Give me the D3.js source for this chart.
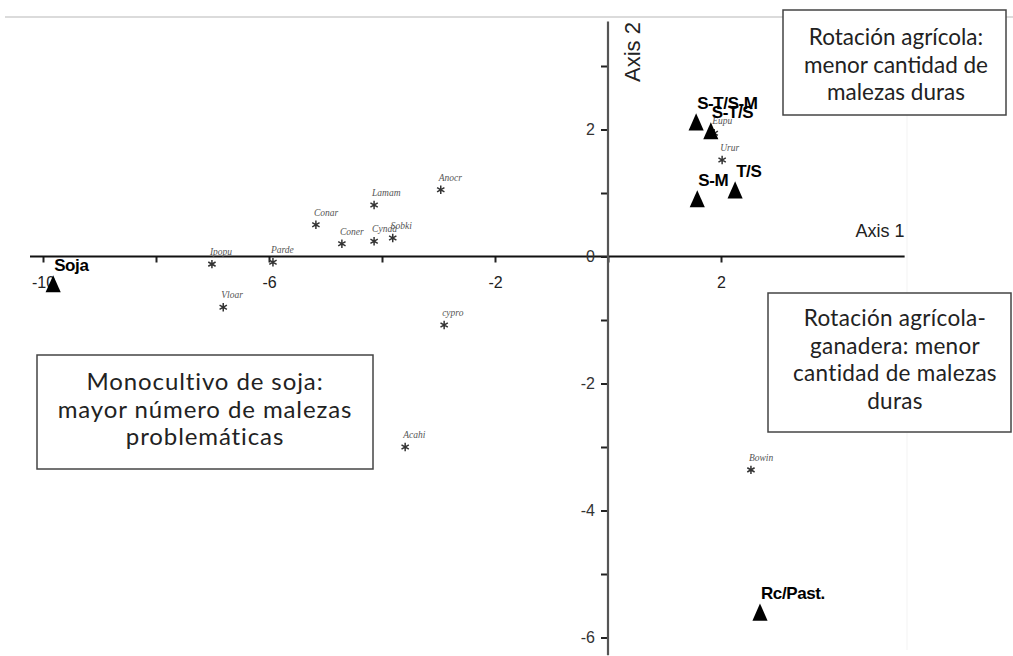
<!DOCTYPE html>
<html>
<head>
<meta charset="utf-8">
<script src="https://cdn.jsdelivr.net/npm/d3@7"></script>
<style>
  body { margin: 0; background: #fff; }
  svg { display: block; }
</style>
</head>
<body>
<div id="chart"></div>
<script>
const [width, height] = [1013, 656];

// species scores (asterisks)
const species = ["Ipopu", "Parde", "Conar", "Coner", "Lamam", "Cynda", "Sobki", "Anocr", "Vloar", "cypro", "Acahi", "Bowin", "Urur", "Eupu"];
const spAxis1 = [-7.01, -5.93, -5.17, -4.71, -4.14, -4.14, -3.81, -2.96, -6.81, -2.90, -3.59, 2.53, 2.02, 1.88];
const spAxis2 = [-0.12, -0.09, 0.50, 0.20, 0.81, 0.24, 0.29, 1.05, -0.80, -1.08, -3.00, -3.36, 1.52, 1.94];

// treatment scores (triangles)
const treatments = ["Soja", "S-T/S-M", "S-T/S", "S-M", "T/S", "Rc/Past."];
const trAxis1 = [-9.82, 1.56, 1.82, 1.58, 2.25, 2.69];
const trAxis2 = [-0.43, 2.12, 1.98, 0.91, 1.05, -5.60];

// axis ticks
const xTicks = [-10, -8, -6, -4, -2, 0, 2];
const xTickLabels = [-10, -6, -2, 2];
const yTicks = [-6, -5, -4, -3, -2, -1, 0, 1, 2, 3];
const yTickLabels = [-6, -4, -2, 0, 2];

// note boxes
const notes = [
  {lines: ["Rotación agrícola:", "menor cantidad de", "malezas duras"], box: [783, 10, 223, 105], cx: 896, y0: 45, size: 22.5, ls: 0},
  {lines: ["Rotación agrícola-", "ganadera: menor", "cantidad de malezas", "duras"], box: [768, 293, 243, 139], cx: 895, y0: 326, size: 22.5, ls: 0.3},
  {lines: ["Monocultivo de soja:", "mayor número de malezas", "problemáticas"], box: [37, 355, 336, 114], cx: 205, y0: 390, size: 24, ls: 0.9}
];

const svg = d3.select("#chart")
  .append("svg")
  .attr("width", width)
  .attr("height", height);

// scales
const x = d3.scaleLinear().domain([-10, 2]).range([43, 721]);
const y = d3.scaleLinear().domain([-6, 3]).range([637.5, 66]);

// faint frame lines
svg.append("line")
  .attr("x1", 5).attr("x2", width).attr("y1", 17).attr("y2", 17)
  .attr("stroke", "#cfcfcf").attr("stroke-width", 1.5);
svg.append("line")
  .attr("x1", 907).attr("x2", 907).attr("y1", 17).attr("y2", 650)
  .attr("stroke", "#f3f3f3").attr("stroke-width", 1);

// x axis
const xAxis = d3.axisBottom(x)
  .tickValues(xTicks)
  .tickSize(6)
  .tickPadding(14)
  .tickFormat(d => xTickLabels.includes(d) ? d : "");

const gx = svg.append("g")
  .attr("transform", `translate(0, ${y(0)})`)
  .call(xAxis);
gx.select(".domain").remove();
gx.selectAll(".tick line").attr("stroke", "#222").attr("stroke-width", 2);
gx.selectAll(".tick text")
  .attr("font-family", "Liberation Sans, Arial, sans-serif")
  .attr("font-size", 16)
  .attr("fill", "#222");
gx.append("line")
  .attr("x1", x(-10.23)).attr("x2", x(5.25))
  .attr("stroke", "#111").attr("stroke-width", 2);

// y axis
const yAxis = d3.axisLeft(y)
  .tickValues(yTicks)
  .tickSize(7)
  .tickPadding(6)
  .tickFormat(d => yTickLabels.includes(d) ? d : "");

const gy = svg.append("g")
  .attr("transform", `translate(${x(0)}, 0)`)
  .call(yAxis);
gy.select(".domain").remove();
gy.selectAll(".tick line").attr("stroke", "#222").attr("stroke-width", 2);
gy.selectAll(".tick text")
  .attr("font-family", "Liberation Sans, Arial, sans-serif")
  .attr("font-size", 16)
  .attr("fill", "#333");
gy.append("line")
  .attr("y1", y(3.7)).attr("y2", y(-6.28))
  .attr("stroke", "#555").attr("stroke-width", 2.2);

// axis titles
svg.append("text")
  .attr("x", x(5.25)).attr("y", 237)
  .attr("text-anchor", "end")
  .attr("font-family", "Liberation Sans, Arial, sans-serif")
  .attr("font-size", 18)
  .attr("fill", "#222")
  .text("Axis 1");
svg.append("text")
  .attr("transform", `translate(640, 52) rotate(-90)`)
  .attr("text-anchor", "middle")
  .attr("font-family", "Liberation Sans, Arial, sans-serif")
  .attr("font-size", 22)
  .attr("fill", "#222")
  .text("Axis 2");

// species asterisks
const star = d3.symbol().type(d3.symbolAsterisk).size(50);
const sp = svg.append("g").selectAll("g")
  .data(species)
  .enter()
  .append("g")
  .attr("transform", (d, i) => `translate(${x(spAxis1[i])}, ${y(spAxis2[i])})`);
sp.append("path")
  .attr("d", star)
  .attr("fill", "none")
  .attr("stroke", "#333")
  .attr("stroke-width", 1.5);
sp.append("text")
  .attr("x", -2).attr("y", -9)
  .attr("font-family", "Liberation Serif, Times New Roman, serif")
  .attr("font-style", "italic")
  .attr("font-size", 9.5)
  .attr("fill", "#555")
  .text(d => d);

// treatment triangles (a little taller than equilateral)
const tallTriangle = {
  draw(context, size) {
    const w = Math.sqrt(size) * 1.43, h = w * 1.13;
    context.moveTo(0, -h / 2);
    context.lineTo(w / 2, h / 2);
    context.lineTo(-w / 2, h / 2);
    context.closePath();
  }
};
const tri = d3.symbol().type(tallTriangle).size(112);
const tr = svg.append("g").selectAll("g")
  .data(treatments)
  .enter()
  .append("g")
  .attr("transform", (d, i) => `translate(${x(trAxis1[i])}, ${y(trAxis2[i])})`);
tr.append("path")
  .attr("d", tri)
  .attr("fill", "#000");
tr.append("text")
  .attr("x", 1).attr("y", -13)
  .attr("font-family", "Liberation Sans, Arial, sans-serif")
  .attr("font-weight", "bold")
  .attr("font-size", 17)
  .attr("letter-spacing", -0.4)
  .attr("fill", "#000")
  .text(d => d);

// note boxes
const nb = svg.append("g").selectAll("g")
  .data(notes)
  .enter()
  .append("g");
nb.append("rect")
  .attr("x", d => d.box[0]).attr("y", d => d.box[1])
  .attr("width", d => d.box[2]).attr("height", d => d.box[3])
  .attr("fill", "#fff")
  .attr("stroke", "#444")
  .attr("stroke-width", 1.5);
nb.each(function(d) {
  d3.select(this).selectAll("text.line")
    .data(d.lines)
    .enter()
    .append("text")
    .attr("class", "line")
    .attr("x", d.cx)
    .attr("y", (l, i) => d.y0 + i * 27.5)
    .attr("text-anchor", "middle")
    .attr("font-family", "Lato, Open Sans, sans-serif")
    .attr("font-size", d.size)
    .attr("letter-spacing", d.ls)
    .attr("fill", "#222")
    .text(l => l);
});
</script>
</body>
</html>
